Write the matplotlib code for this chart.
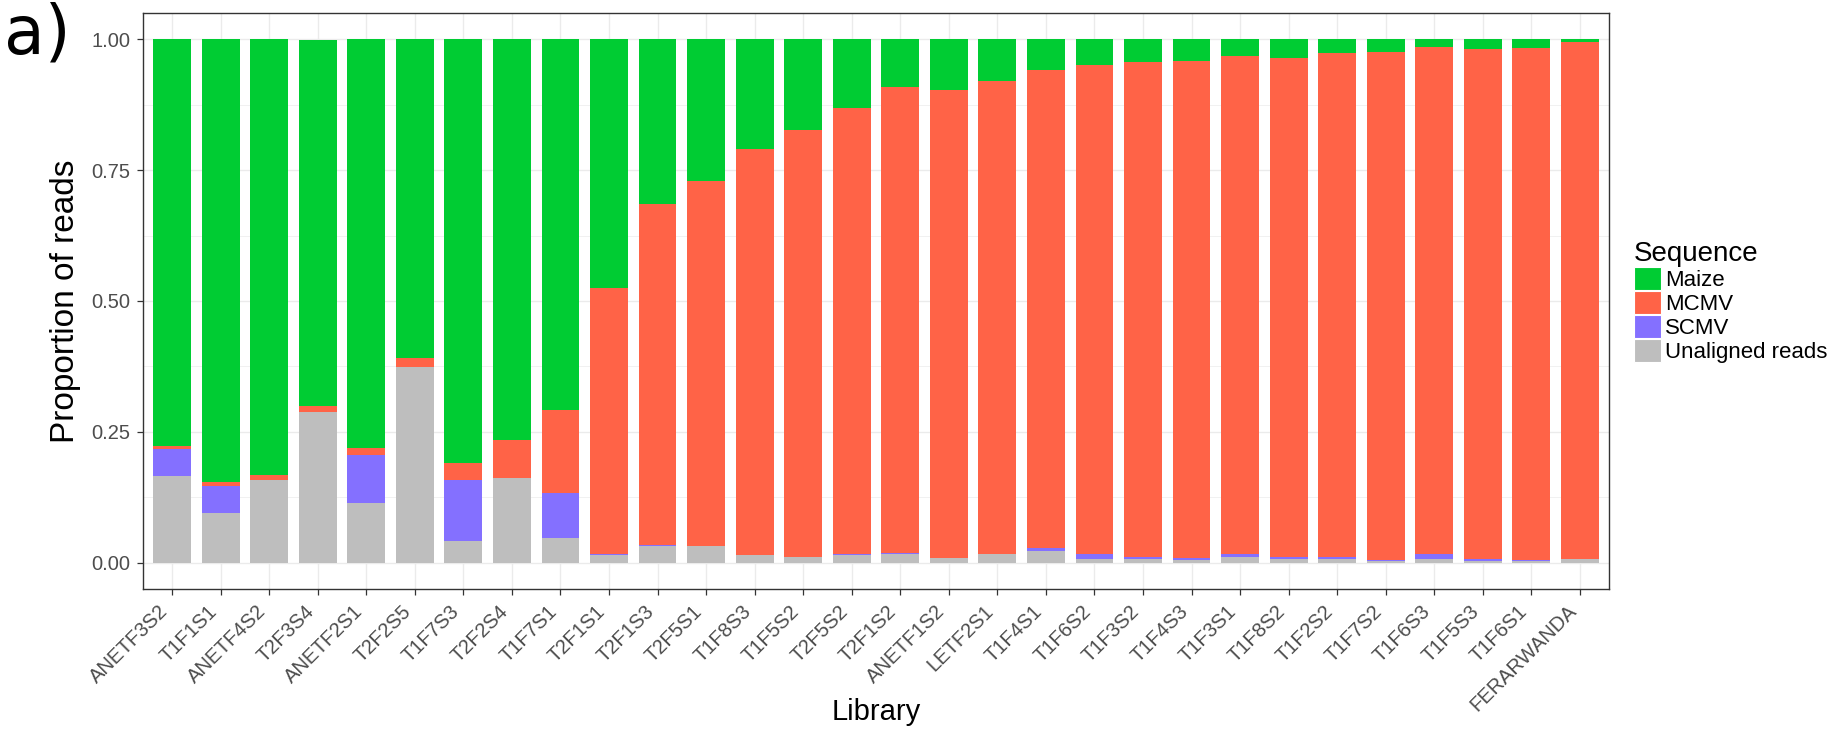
import numpy as np
import matplotlib
matplotlib.use("Agg")
import matplotlib.pyplot as plt
from matplotlib.patches import Patch

plt.rcParams['font.family'] = ['Liberation Sans', 'DejaVu Sans']

libraries = ["ANETF3S2", "T1F1S1", "ANETF4S2", "T2F3S4", "ANETF2S1", "T2F2S5",
             "T1F7S3", "T2F2S4", "T1F7S1", "T2F1S1", "T2F1S3", "T2F5S1",
             "T1F8S3", "T1F5S2", "T2F5S2", "T2F1S2", "ANETF1S2", "LETF2S1",
             "T1F4S1", "T1F6S2", "T1F3S2", "T1F4S3", "T1F3S1", "T1F8S2",
             "T1F2S2", "T1F7S2", "T1F6S3", "T1F5S3", "T1F6S1", "FERARWANDA"]

# proportions, stacked bottom -> top
unaligned = [0.165, 0.095, 0.158, 0.288, 0.115, 0.374, 0.042, 0.162, 0.047, 0.015,
             0.033, 0.032, 0.015, 0.011, 0.015, 0.017, 0.009, 0.016, 0.023, 0.007,
             0.007, 0.005, 0.011, 0.008, 0.008, 0.003, 0.008, 0.004, 0.003, 0.008]
scmv = [0.053, 0.051, 0.0, 0.0, 0.091, 0.0, 0.116, 0.0, 0.087, 0.001,
        0.001, 0.0, 0.0, 0.0, 0.001, 0.001, 0.0, 0.0, 0.006, 0.009,
        0.005, 0.004, 0.005, 0.004, 0.003, 0.002, 0.008, 0.003, 0.003, 0.0]
mcmv = [0.005, 0.009, 0.009, 0.011, 0.014, 0.018, 0.032, 0.072, 0.157, 0.508,
        0.652, 0.698, 0.776, 0.815, 0.853, 0.890, 0.893, 0.905, 0.913, 0.934,
        0.945, 0.950, 0.951, 0.953, 0.962, 0.970, 0.970, 0.975, 0.977, 0.986]
maize = [0.777, 0.845, 0.833, 0.700, 0.780, 0.608, 0.810, 0.766, 0.709, 0.476,
         0.314, 0.270, 0.209, 0.174, 0.131, 0.092, 0.098, 0.079, 0.058, 0.050,
         0.043, 0.041, 0.033, 0.035, 0.027, 0.025, 0.014, 0.018, 0.017, 0.006]

series = [("Unaligned reads", unaligned, "#BEBEBE"),
          ("SCMV", scmv, "#8470FF"),
          ("MCMV", mcmv, "#FF6347"),
          ("Maize", maize, "#00CC33")]

fig = plt.figure(figsize=(18.31, 7.31), dpi=100)
ax = fig.add_axes([143/1831, 1 - 589/731, (1609 - 143)/1831, (589 - 13)/731])

x = np.arange(1, len(libraries) + 1)
bottom = np.zeros(len(libraries))
for name, vals, col in series:
    ax.bar(x, vals, bottom=bottom, width=0.78, color=col, edgecolor="none", zorder=3)
    bottom += np.array(vals)

ax.set_xlim(0.4, len(libraries) + 0.6)
ax.set_ylim(-0.05, 1.05)
ax.set_yticks([0, 0.25, 0.5, 0.75, 1.0])
ax.set_yticklabels(["0.00", "0.25", "0.50", "0.75", "1.00"])
ax.set_yticks([0.125, 0.375, 0.625, 0.875], minor=True)
ax.set_xticks(x)
ax.set_xticklabels(libraries, rotation=45, ha="right", va="top")

ax.grid(which="major", color="#EBEBEB", linewidth=1.0, zorder=0)
ax.grid(which="minor", axis="y", color="#EBEBEB", linewidth=0.5, zorder=0)
ax.set_axisbelow(True)
for s in ax.spines.values():
    s.set_color("#333333")
    s.set_linewidth(1.0)
ax.tick_params(axis="both", which="major", length=4, width=0.9, color="#333333",
               labelcolor="#4D4D4D", labelsize=14.5, pad=5)
ax.tick_params(axis="y", which="minor", length=0)

fig.text(66/1831, 1 - 301/731, "Proportion of reads", rotation=90,
         ha="center", va="center", fontsize=24)
fig.text(876/1831, 1 - 712/731, "Library", ha="center", va="center", fontsize=21)
fig.text(0.002, 1 - 53/731, "a)", fontsize=48, family="DejaVu Sans", ha="left", va="baseline")

handles = [Patch(facecolor=c, edgecolor="white", linewidth=0.8, label=n)
           for n, v, c in series[::-1]]
leg = fig.legend(handles=handles, title="Sequence", loc="center left",
                 bbox_to_anchor=(1634/1831, 1 - 302/731), frameon=False,
                 fontsize=16, title_fontsize=20, handlelength=1.2,
                 handleheight=1.2, labelspacing=0.0, handletextpad=0.2,
                 borderpad=0, borderaxespad=0, alignment="left")

fig.savefig("out.png", dpi=100)
